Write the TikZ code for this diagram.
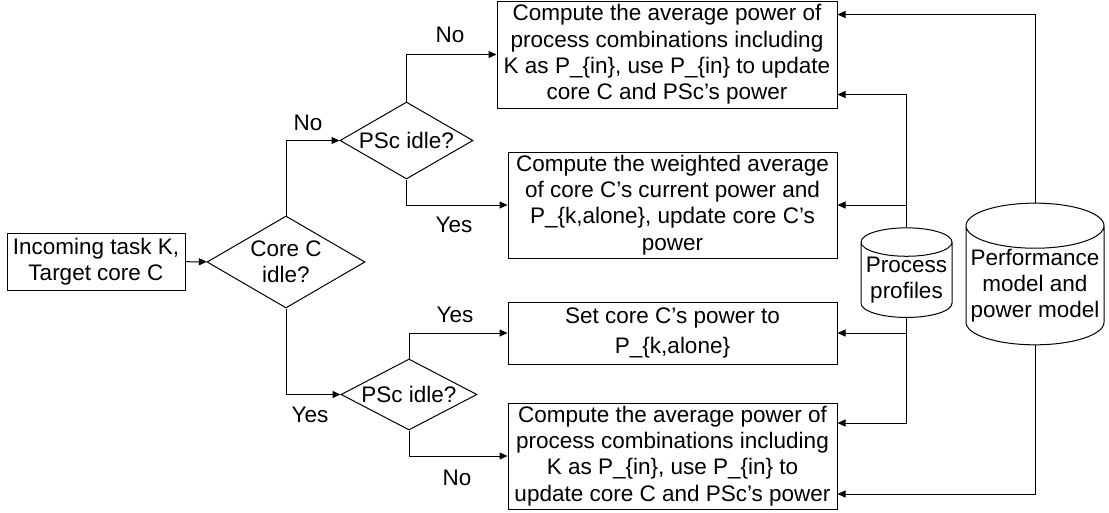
\documentclass[tikz,border=0pt]{standalone}
\usepackage{fontspec}
\setmainfont{Liberation Sans}
\usetikzlibrary{arrows.meta, shapes.geometric, calc}

\begin{document}
\begin{tikzpicture}[x=1pt, y=-1pt,
    every node/.style={font=\fontsize{22.5}{26.3}\selectfont, line width=1pt},
    block/.style={rectangle, draw, align=center, inner sep=0pt},
    decision/.style={diamond, draw, align=center, inner sep=0pt, aspect=1.75},
    store/.style={cylinder, shape border rotate=90, draw, align=center, inner sep=0pt, aspect=0.35},
    flow/.style={-{Triangle[length=8pt, width=7pt]}, line width=1pt},
    answer/.style={inner sep=0pt}
]
    \useasboundingbox (0,0) rectangle (1109,512);

    \node[block, minimum width=178, minimum height=57] (task) at (96,261.5) {Incoming task K,\\Target core C};
    \node[decision, minimum width=158, minimum height=92] (core) at (286,262) {Core C\\idle?};
    \node[decision, minimum width=133, minimum height=77] (pscup) at (406.5,140.5) {PSc idle?};
    \node[decision, minimum width=136, minimum height=71] (pscdown) at (409,394.5) {PSc idle?};

    \node[block, minimum width=340, minimum height=107] (avgup) at (667,54.5)
        {Compute the average power of\\process combinations including\\K as P\_\{in\}, use P\_\{in\} to update\\core C and PSc’s power};
    \node[block, minimum width=329, minimum height=106] (weighted) at (672.5,205)
        {Compute the weighted average\\of core C’s current power and\\P\_\{k,alone\}, update core C’s\\power};
    \node[block, minimum width=329, minimum height=62] (alone) at (672.5,333)
        {Set core C’s power to\\[3.7pt]P\_\{k,alone\}};
    \node[block, minimum width=329, minimum height=106] (avgdown) at (672.5,456)
        {Compute the average power of\\process combinations including\\K as P\_\{in\}, use P\_\{in\} to\\update core C and PSc’s power};

    \node[store, minimum width=91, minimum height=84] (profiles) at (906.5,280) {Process\\profiles};
    \node[store, minimum width=138, minimum height=135] (models) at (1035,285.5) {Performance\\model and\\power model};

    % decisions
    \draw[flow] (task) -- (core);
    \draw[flow] (core.north) |- (pscup.west);
    \draw[flow] (core.south) |- (pscdown.west);
    \draw[flow] (pscup.north) |- (avgup.west);
    \draw[flow] (pscup.south) |- (weighted.west);
    \draw[flow] (pscdown.north) |- (alone.west);
    \draw[flow] (pscdown.south) |- (avgdown.west);

    % data stores
    \draw[flow] (profiles.north) |- ([yshift=-40pt]avgup.east);
    \draw[flow] (profiles.north) |- (weighted.east);
    \draw[flow] (profiles.south) |- (alone.east);
    \draw[flow] (profiles.south) |- ([yshift=33pt]avgdown.east);
    \draw[flow] (models.north) |- ([yshift=40pt]avgup.east);
    \draw[flow] (models.south) |- ([yshift=-38pt]avgdown.east);

    \node[answer] (nocore) at (308,123) {No};
    \node[answer] (yescore) at (310,415) {Yes};
    \node[answer] (noup) at (450,35) {No};
    \node[answer] (yesup) at (454,225) {Yes};
    \node[answer] (yesdown) at (455,315) {Yes};
    \node[answer] (nodown) at (457,478) {No};
\end{tikzpicture}
\end{document}
